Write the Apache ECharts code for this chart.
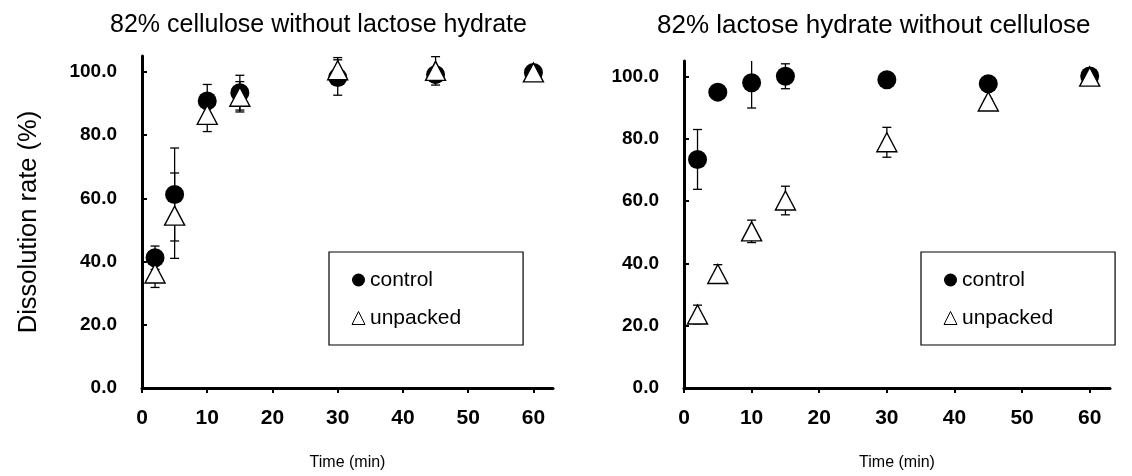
<!DOCTYPE html>
<html>
<head>
<meta charset="utf-8">
<script src="https://cdn.jsdelivr.net/npm/echarts@6/dist/echarts.min.js"></script>
<style>
html,body{margin:0;padding:0;background:#fff;}
#chart{width:1132px;height:476px;}
</style>
</head>
<body>
<div id="chart"></div>
<script>
// ---- data ----
var times = [2, 5, 10, 15, 30, 45, 60];
var xTicks = [0, 10, 20, 30, 40, 50, 60];
var yTicks = [0, 20, 40, 60, 80, 100];

var titleLeft = '82% cellulose without lactose hydrate';
var titleRight = '82% lactose hydrate without cellulose';

var leftControl      = [41.2, 61.2, 90.8, 93.4, 98.2, 99.1, 99.8];
var leftControlErr   = [3.7, 14.7, 5.2, 5.5, 5.6, 0.8, 0.5];
var leftUnpacked     = [36.2, 54.5, 86.4, 92.1, 100.5, 100.3, 99.8];
var leftUnpackedErr  = [4.4, 13.5, 5.3, 4.8, 4.0, 4.5, 0.5];

var rightControl     = [73.4, 95.0, 98.0, 100.1, 99.0, 97.7, 100.2];
var rightControlErr  = [9.6, 0.8, 8.1, 4.0, 0.8, 0.8, 0.5];
var rightUnpacked    = [23.6, 36.6, 50.3, 60.2, 78.9, 92.0, 100.0];
var rightUnpackedErr = [3.0, 3.0, 3.6, 4.6, 4.8, 0.8, 0.5];

// ---- helpers ----
var FONT = "'Liberation Sans', Arial, Helvetica, sans-serif";
function pts(vals) { return times.map(function (t, i) { return [t, vals[i]]; }); }
function errs(vals, e) { return times.map(function (t, i) { return [t, vals[i] - e[i], vals[i] + e[i]]; }); }
function errRender(params, api) {
  var x = api.value(0), lo = api.value(1), hi = api.value(2);
  var a = api.coord([x, hi]), b = api.coord([x, lo]);
  var cw = 4.5, st = { stroke: '#000', lineWidth: 1.3 };
  return { type: 'group', children: [
    { type: 'line', shape: { x1: a[0], y1: a[1], x2: b[0], y2: b[1] }, style: st },
    { type: 'line', shape: { x1: a[0] - cw, y1: a[1], x2: a[0] + cw, y2: a[1] }, style: st },
    { type: 'line', shape: { x1: b[0] - cw, y1: b[1], x2: b[0] + cw, y2: b[1] }, style: st }
  ] };
}
function xAx(idx) {
  return {
    type: 'value', gridIndex: idx, min: 0, max: 63, interval: 10,
    name: 'Time (min)', nameLocation: 'middle', nameGap: 67,
    nameTextStyle: { color: '#000', fontSize: 16, fontFamily: FONT },
    axisLine: { show: true, onZero: false, lineStyle: { color: '#000', width: 3 } },
    axisTick: { show: true, inside: false, length: 5, lineStyle: { color: '#000', width: 2 }, customValues: xTicks },
    axisLabel: { color: '#000', fontSize: 21, fontWeight: 'bold', fontFamily: FONT, margin: 20, customValues: xTicks },
    splitLine: { show: false }
  };
}
function yAx(idx, withName) {
  var o = {
    type: 'value', gridIndex: idx, min: 0, max: 105, interval: 20,
    axisLine: { show: true, onZero: false, lineStyle: { color: '#000', width: 3 } },
    axisTick: { show: true, inside: true, length: 5, lineStyle: { color: '#000', width: 2 }, customValues: yTicks },
    axisLabel: { color: '#000', fontSize: 19, fontWeight: 'bold', fontFamily: FONT, margin: 25,
      customValues: yTicks, formatter: function (v) { return v.toFixed(1); } },
    splitLine: { show: false }
  };
  if (withName) {
    o.name = 'Dissolution rate (%)';
    o.nameLocation = 'middle';
    o.nameGap = 100;
    o.nameTextStyle = { color: '#000', fontSize: 25.5, fontFamily: FONT };
  }
  return o;
}
function legendAt(left) {
  return {
    left: left, top: 252, orient: 'vertical',
    padding: [17.5, 62, 16.5, 22.5],
    itemWidth: 13, itemHeight: 13, itemGap: 17,
    borderColor: '#000', borderWidth: 1.2,
    textStyle: { color: '#000', fontSize: 21, fontFamily: FONT },
    selectedMode: false,
    data: [
      { name: 'control', icon: 'circle', itemStyle: { color: '#000', borderWidth: 0 } },
      { name: 'unpacked', icon: 'triangle', itemStyle: { color: '#fff', borderColor: '#000', borderWidth: 1 } }
    ]
  };
}
function ctrl(idx, vals) {
  return { name: 'control', type: 'scatter', xAxisIndex: idx, yAxisIndex: idx, z: 3,
    symbol: 'circle', symbolSize: 19, itemStyle: { color: '#000', opacity: 1 }, data: pts(vals) };
}
function unp(idx, vals) {
  return { name: 'unpacked', type: 'scatter', xAxisIndex: idx, yAxisIndex: idx, z: 4,
    symbol: 'triangle', symbolSize: [20, 19],
    itemStyle: { color: '#fff', borderColor: '#000', borderWidth: 1.4, opacity: 1 }, data: pts(vals) };
}
function errS(idx, vals, e, nm) {
  return { name: nm, type: 'custom', xAxisIndex: idx, yAxisIndex: idx, z: 2, silent: true, clip: true,
    renderItem: errRender, encode: { x: 0, y: [1, 2] }, data: errs(vals, e) };
}

var chart = echarts.init(document.getElementById('chart'), null, { renderer: 'canvas' });
chart.setOption({
  animation: false,
  backgroundColor: '#fff',
  textStyle: { fontFamily: FONT },
  title: [
    { text: titleLeft, left: 105, top: 8, textStyle: { color: '#000', fontSize: 25, fontWeight: 'normal', fontFamily: FONT } },
    { text: titleRight, left: 652, top: 8, textStyle: { color: '#000', fontSize: 26, fontWeight: 'normal', fontFamily: FONT } }
  ],
  legend: [legendAt(329), legendAt(921)],
  grid: [
    { left: 142, top: 56, width: 411, height: 337 },
    { left: 684, top: 61, width: 426, height: 332 }
  ],
  xAxis: [xAx(0), xAx(1)],
  yAxis: [yAx(0, true), yAx(1, false)],
  series: [
    errS(0, leftControl, leftControlErr, 'errLC'),
    errS(0, leftUnpacked, leftUnpackedErr, 'errLU'),
    ctrl(0, leftControl),
    unp(0, leftUnpacked),
    errS(1, rightControl, rightControlErr, 'errRC'),
    errS(1, rightUnpacked, rightUnpackedErr, 'errRU'),
    ctrl(1, rightControl),
    unp(1, rightUnpacked)
  ]
});
</script>
</body>
</html>
